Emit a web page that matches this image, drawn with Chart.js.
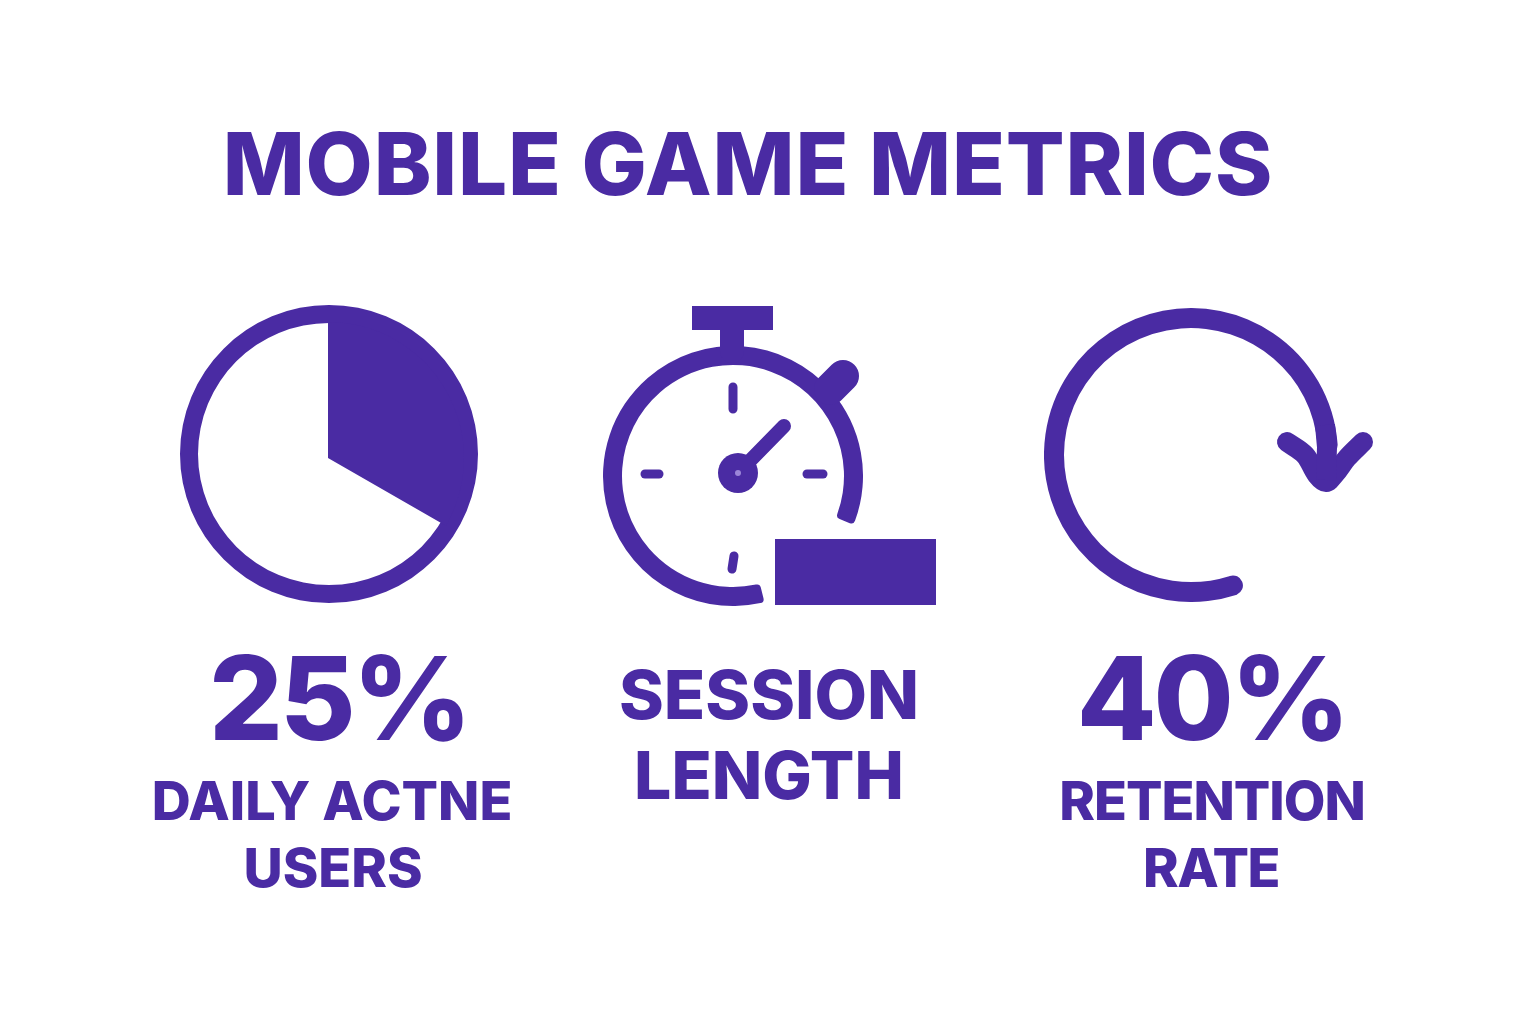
<!DOCTYPE html>
<html>
<head>
<meta charset="utf-8">
<title>Mobile Game Metrics</title>
<script src="https://cdn.jsdelivr.net/npm/chart.js@4"></script>
<style>
  html, body { margin: 0; background: #fff; }
  #page { position: relative; width: 1536px; height: 1024px; overflow: hidden; }
  canvas { position: absolute; }
  .txt {
    position: absolute; white-space: nowrap; line-height: 1; transform: translateX(-50%);
    font-family: Inter, sans-serif; font-weight: 800; color: #4a2ba3;
  }
</style>
</head>
<body>
<div id="page"></div>
<script>
const PURPLE = '#4a2ba3';

// pie: share of the disc that is filled
const pieLabels = ['filled', 'rest'];
const pieValues = [33.3, 66.7];

// retention ring: one long arc
const retentionArc = [1];

// stopwatch parts, in pixels from the dial centre, y up
const crownPts = [{x: -41, y: 158}, {x: 40, y: 158}];
const stemPts = [{x: -1, y: 148}, {x: -1, y: 125}];
const earPts = [{x: 97, y: 87}, {x: 110, y: 100}];
const tickTop = [{x: 0, y: 89}, {x: 0, y: 67}];
const tickLeft = [{x: -88, y: 2}, {x: -74, y: 2}];
const tickRight = [{x: 74, y: 2}, {x: 90, y: 2}];
const tickBottom = [{x: 1, y: -80}, {x: -1, y: -93}];
const handPts = [{x: 5, y: 3}, {x: 51, y: 50}];
const hubPt = [{x: 5, y: 3}];
const sessionBar = [{x: 42, y: -96}, {x: 203, y: -96}];

// retention arrow head, from the ring centre, y up
const arrowStem = [{x: 134, y: 30}, {x: 136, y: 8}, {x: 135, y: -25}];
const arrowHead = [
  {x: 96, y: 13}, {x: 114, y: 0}, {x: 126, y: -20}, {x: 135, y: -27},
  {x: 144, y: -19}, {x: 156, y: -3}, {x: 172, y: 13}
];

const titleText = 'MOBILE GAME METRICS';
// text, centre x, top y, font size, letter spacing
const texts = [
  [titleText, 748, 120, 87, 0.8],
  ['25%', 339, 640, 116, -3],
  ['DAILY ACTNE', 332, 774, 54, 0],
  ['USERS', 333, 841, 54, 0],
  ['SESSION', 769, 660, 68, 0],
  ['LENGTH', 769, 742, 66, 0],
  ['40%', 1212, 640, 116, -3],
  ['RETENTION', 1212, 774, 54, -1],
  ['RATE', 1211, 841, 54, -1.5]
];

const page = document.getElementById('page');

function addCanvas(left, top, w, h) {
  const c = document.createElement('canvas');
  c.style.left = left + 'px';
  c.style.top = top + 'px';
  c.style.width = w + 'px';
  c.style.height = h + 'px';
  c.width = w;
  c.height = h;
  page.appendChild(c);
  return c;
}

const baseOptions = {
  responsive: false,
  animation: false,
  events: [],
  layout: {autoPadding: false, padding: 0},
  plugins: {legend: {display: false}, tooltip: {enabled: false}}
};

function doughnut(left, top, size, datasets, labels, extra) {
  return new Chart(addCanvas(left, top, size, size), {
    type: 'doughnut',
    data: {labels, datasets},
    options: {...baseOptions, ...extra}
  });
}

function lineSet(data, width, cap, tension = 0) {
  return {
    data, showLine: true, borderColor: PURPLE, borderWidth: width, borderCapStyle: cap,
    borderJoinStyle: 'round', pointRadius: 0, clip: false, tension
  };
}

function shapes(left, top, w, h, xMin, yMin, datasets) {
  return new Chart(addCanvas(left, top, w, h), {
    type: 'scatter',
    data: {datasets},
    options: {
      ...baseOptions,
      scales: {
        x: {display: false, min: xMin, max: xMin + w},
        y: {display: false, min: yMin, max: yMin + h}
      }
    }
  });
}

// daily active users pie, ring first and the wedge sits a little off centre on top
doughnut(180, 305, 298, [
  {data: [100], backgroundColor: [PURPLE], borderWidth: 0}
], ['ring'], {cutout: 131});

doughnut(192, 322, 272, [
  {data: pieValues, backgroundColor: [PURPLE, 'rgba(0,0,0,0)'], borderWidth: 0}
], pieLabels, {cutout: 0});

// stopwatch dial
doughnut(603, 346, 260, [
  {data: [1], backgroundColor: [PURPLE], borderWidth: 0, borderRadius: 4}
], ['dial'], {rotation: 166, circumference: 306, cutout: 111});

// first dataset is painted last, so the light dot goes first
shapes(590, 295, 360, 320, -143, -139, [
  {data: hubPt, pointRadius: 3, pointBackgroundColor: '#9b85d8', pointBorderWidth: 0},
  {data: hubPt, pointRadius: 20, pointBackgroundColor: PURPLE, pointBorderWidth: 0},
  lineSet(crownPts, 24, 'butt'),
  lineSet(stemPts, 24, 'butt'),
  lineSet(earPts, 32, 'round'),
  lineSet(tickTop, 9, 'round'),
  lineSet(tickLeft, 9, 'round'),
  lineSet(tickRight, 9, 'round'),
  lineSet(tickBottom, 9, 'round'),
  lineSet(handPts, 14, 'round'),
  lineSet(sessionBar, 66, 'butt')
]);

// retention ring
doughnut(1044, 308, 294, [
  {data: retentionArc, backgroundColor: [PURPLE], borderWidth: 0, borderRadius: 10}
], ['retention'], {rotation: 158, circumference: 292, cutout: 127});

shapes(1030, 300, 350, 310, -161, -155, [
  lineSet(arrowStem, 20, 'butt'),
  lineSet(arrowHead, 20, 'round', 0.35)
]);

for (const [text, cx, top, size, spacing] of texts) {
  const d = document.createElement('div');
  d.className = 'txt';
  d.textContent = text;
  d.style.left = cx + 'px';
  d.style.top = top + 'px';
  d.style.fontSize = size + 'px';
  d.style.letterSpacing = spacing + 'px';
  page.appendChild(d);
}
</script>
</body>
</html>
